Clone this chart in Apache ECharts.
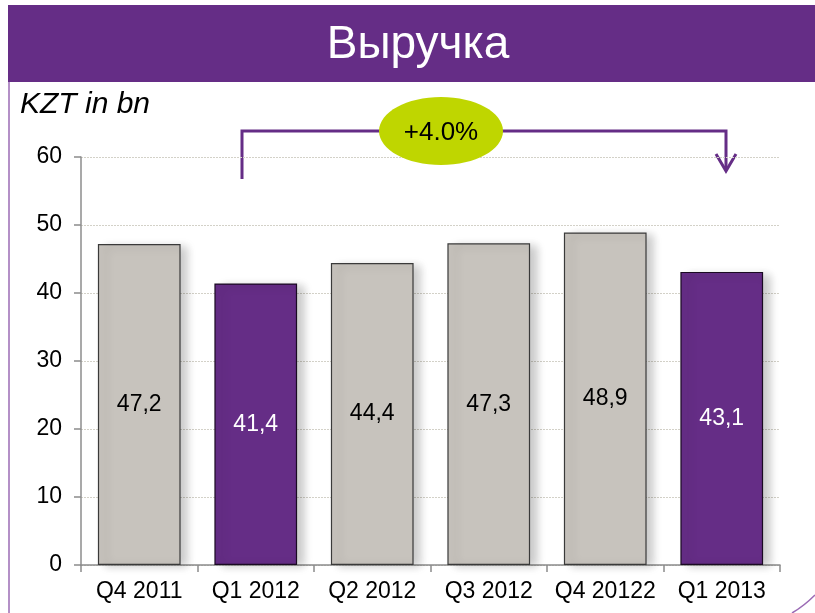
<!DOCTYPE html>
<html>
<head>
<meta charset="utf-8">
<style>
  html, body { margin: 0; padding: 0; background: #fff; }
  #chart { width: 815px; height: 613px; }
</style>
<script src="https://cdn.jsdelivr.net/npm/echarts@6/dist/echarts.min.js"></script>
</head>
<body>
<div id="chart"></div>
<script>
// data
const categories = ['Q4 2011', 'Q1 2012', 'Q2 2012', 'Q3 2012', 'Q4 20122', 'Q1 2013']
const revenue = [47.2, 41.4, 44.4, 47.3, 48.9, 43.1]
const yTicks = [0, 10, 20, 30, 40, 50, 60]
const highlighted = ['Q1 2012', 'Q1 2013']
const growthLabel = '+4.0%'

const purple = '#652d86'
const grey = '#c7c3bd'
const font = '"Liberation Sans", Arial, sans-serif'

const chart = echarts.init(document.getElementById('chart'))

chart.setOption({
  animation: false,
  textStyle: { fontFamily: font },
  grid: { left: 81, right: 35, top: 157, bottom: 48 },
  xAxis: {
    type: 'category',
    data: categories,
    axisLine: { lineStyle: { color: '#8c8c8c', width: 1.5 } },
    axisTick: { show: true, length: 7, lineStyle: { color: '#8c8c8c', width: 1.5 } },
    axisLabel: { color: '#000', fontSize: 23, margin: 15, interval: 0, fontFamily: font }
  },
  yAxis: {
    type: 'value',
    min: yTicks[0],
    max: yTicks[yTicks.length - 1],
    interval: 10,
    axisLine: { show: true, lineStyle: { color: '#8c8c8c', width: 1.5 } },
    axisTick: { show: true, length: 7, lineStyle: { color: '#8c8c8c', width: 1.5 } },
    axisLabel: { color: '#000', fontSize: 23, margin: 19, fontFamily: font },
    splitLine: { lineStyle: { color: '#d3d1c8', type: [2, 1], width: 1 } }
  },
  series: [{
    type: 'bar',
    barWidth: '71%',
    data: revenue.map((v, i) => {
      const hi = highlighted.indexOf(categories[i]) >= 0
      return {
        value: v,
        itemStyle: {
          color: hi ? purple : grey,
          borderColor: hi ? '#1a0a22' : '#3a3a3a',
          borderWidth: 1.2,
          shadowColor: 'rgba(0,0,0,0.22)',
          shadowBlur: 9,
          shadowOffsetX: 7,
          shadowOffsetY: 2
        },
        label: { color: hi ? '#fff' : '#000' }
      }
    }),
    label: {
      show: true,
      position: 'inside',
      fontSize: 23,
      fontFamily: font,
      formatter: p => p.value.toFixed(1).replace('.', ',')
    }
  }],
  graphic: [
    // title bar
    { type: 'rect', shape: { x: 8, y: 5, width: 807, height: 77 }, style: { fill: purple }, z: 0 },
    { type: 'text', x: 418, y: 45, style: { text: 'Выручка', fill: '#fff', font: '46px ' + font, textAlign: 'center', textVerticalAlign: 'middle' } },
    // slide border
    { type: 'line', shape: { x1: 9, y1: 82, x2: 9, y2: 613 }, style: { stroke: '#9b6bb5', lineWidth: 1.5 } },
    { type: 'bezierCurve', shape: { x1: 792, y1: 613, cpx1: 804, cpy1: 606, x2: 815, y2: 595 }, style: { stroke: '#9b6bb5', lineWidth: 1.5, fill: null } },
    // unit label
    { type: 'text', x: 20, y: 105, style: { text: 'KZT in bn', fill: '#000', font: 'italic 30px ' + font, textVerticalAlign: 'middle' } },
    // growth bracket
    { type: 'polyline', shape: { points: [[242, 179], [242, 131], [726, 131], [726, 170]] }, style: { stroke: purple, lineWidth: 3, fill: null } },
    { type: 'polyline', shape: { points: [[716, 154], [726, 171], [736, 154]] }, style: { stroke: purple, lineWidth: 3, fill: null } },
    { type: 'ellipse', shape: { cx: 441, cy: 131, rx: 62, ry: 34 }, style: { fill: '#bfd600' }, z: 10 },
    { type: 'text', x: 441, y: 133, z: 11, style: { text: growthLabel, fill: '#000', font: '26px ' + font, textAlign: 'center', textVerticalAlign: 'middle' } }
  ]
})
</script>
</body>
</html>
